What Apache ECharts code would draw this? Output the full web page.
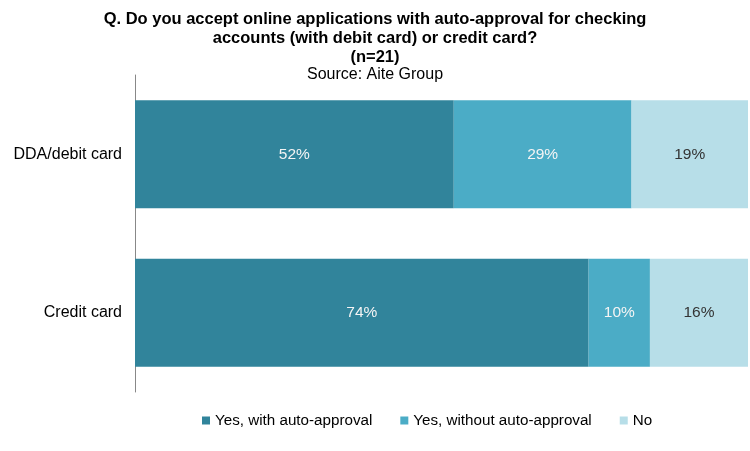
<!DOCTYPE html>
<html>
<head>
<meta charset="utf-8">
<script src="https://cdn.jsdelivr.net/npm/echarts@6/dist/echarts.min.js"></script>
<style>
  html, body { margin: 0; padding: 0; background: #fff; }
  #chart { width: 750px; height: 451px; }
</style>
</head>
<body>
<div id="chart"></div>
<script>
var categories = ['Credit card', 'DDA/debit card'];
var seriesNames = ['Yes, with auto-approval', 'Yes, without auto-approval', 'No'];
var withAuto = [74, 52];
var withoutAuto = [10, 29];
var no = [16, 19];

var colors = ['#31849B', '#4BACC6', '#B7DEE8'];
var labelColors = ['#f4f4f4', '#f4f4f4', '#333'];

var chart = echarts.init(document.getElementById('chart'));

var values = [withAuto, withoutAuto, no];
var series = [];
for (var i = 0; i < seriesNames.length; i++) {
  series.push({
    name: seriesNames[i],
    type: 'bar',
    stack: 'total',
    barCategoryGap: '32%',
    data: values[i],
    itemStyle: { color: colors[i] },
    label: {
      show: true,
      position: 'inside',
      formatter: '{c}%',
      color: labelColors[i],
      fontFamily: 'Liberation Sans',
      fontSize: 15.5
    }
  });
}

var option = {
  backgroundColor: '#fff',
  animation: false,
  title: {
    text: 'Q. Do you accept online applications with auto-approval for checking\naccounts (with debit card) or credit card?\n(n=21)',
    subtext: 'Source: Aite Group',
    left: 'center',
    top: 5,
    itemGap: 0,
    textStyle: {
      fontFamily: 'Liberation Sans',
      fontSize: 16.5,
      fontWeight: 'bold',
      color: '#000',
      lineHeight: 19
    },
    subtextStyle: {
      fontFamily: 'Liberation Sans',
      fontSize: 16,
      color: '#000'
    }
  },
  legend: {
    data: seriesNames,
    left: 197,
    top: 408,
    itemWidth: 8,
    itemHeight: 8,
    itemGap: 28,
    icon: 'rect',
    textStyle: {
      fontFamily: 'Liberation Sans',
      fontSize: 15.2,
      color: '#000'
    }
  },
  grid: {
    left: 135,
    right: 2,
    top: 75,
    bottom: 59,
    containLabel: false
  },
  xAxis: {
    type: 'value',
    min: 0,
    max: 100,
    show: false
  },
  yAxis: {
    type: 'category',
    data: categories,
    axisLine: { show: true, lineStyle: { color: '#888', width: 1 } },
    axisTick: { show: false },
    axisLabel: {
      fontFamily: 'Liberation Sans',
      fontSize: 16,
      color: '#000',
      margin: 13
    }
  },
  series: series
};

chart.setOption(option);
</script>
</body>
</html>
